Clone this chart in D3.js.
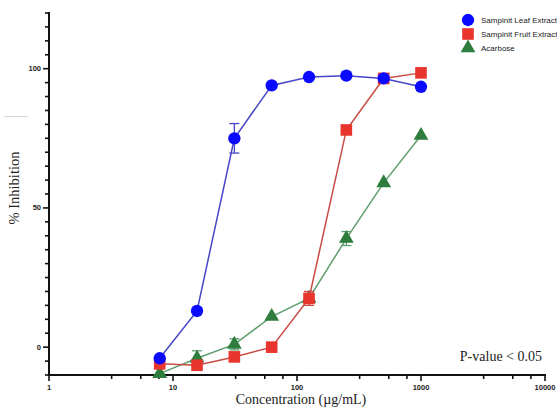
<!DOCTYPE html>
<html>
<head>
<meta charset="utf-8">
<script src="https://cdn.jsdelivr.net/npm/d3@7"></script>
<style>
  body { margin: 0; background: #fff; }
  svg { display: block; }
</style>
</head>
<body>
<div class="chart"></div>
<script>
var width = 557, height = 409;

// concentrations (ug/mL)
var conc = [7.8125, 15.625, 31.25, 62.5, 125, 250, 500, 1000];

var leafVals  = [-4, 13, 75, 94, 97, 97.5, 96.5, 93.5];
var leafErr   = [0, 0, 5.3, 0, 0, 0, 0, 0];
var fruitVals = [-6, -6.5, -3.5, 0, 17.5, 78, 96.5, 98.5];
var fruitErr  = [0, 0, 0, 0, 2.5, 0, 0, 0];
var acarVals  = [-9.5, -4, 1, 11, 17.5, 39, 59, 76];
var acarErr   = [0, 2.7, 2, 0, 0, 2.5, 0, 0];

var xTickVals = [1, 10, 100, 1000, 10000];
var xTickLabels = ["1", "10", "100", "1000", "10000"];
var yTickVals = [0, 50, 100];

var series = [
  {name: "Acarbose", vals: acarVals, err: acarErr, shape: "triangle", fill: "#2e7d3c", line: "#5f9e6e"},
  {name: "Sampinit Fruit Extract", vals: fruitVals, err: fruitErr, shape: "square", fill: "#e8352d", line: "#c94a44"},
  {name: "Sampinit Leaf Extract", vals: leafVals, err: leafErr, shape: "circle", fill: "#0a0aff", line: "#4646c8"}
];
var legendOrder = [series[2], series[1], series[0]];

var svg = d3.select(".chart").append("svg")
    .attr("width", width)
    .attr("height", height);

var x = d3.scaleLog().domain([1, 10000]).range([49, 545]);
var y = d3.scaleLinear().domain([-10, 120]).range([375, 13]);

function symbolFor(shape, size) {
  var t = shape === "circle" ? d3.symbolCircle : shape === "square" ? d3.symbolSquare : d3.symbolTriangle;
  return d3.symbol().type(t).size(size)();
}
var sizes = {circle: 120, square: 135, triangle: 95};

// faint stray line on the left (artifact in source)
svg.append("line")
    .attr("x1", 4).attr("x2", 28).attr("y1", 116.5).attr("y2", 116.5)
    .style("stroke", "#d4d4d4").style("stroke-width", 1);

// y axis minor ticks
var yMinor = d3.range(-10, 121, 5);
var yAxisG = svg.append("g").attr("class", "y-axis");
yAxisG.selectAll("line.minor")
    .data(yMinor)
  .enter().append("line")
    .attr("x1", function(d){ return yTickVals.indexOf(d) >= 0 ? 43 : 45; })
    .attr("x2", 49)
    .attr("y1", function(d){ return y(d); })
    .attr("y2", function(d){ return y(d); })
    .style("stroke", "#111").style("stroke-width", 1.6);
yAxisG.append("line")
    .attr("x1", 49).attr("x2", 49)
    .attr("y1", y(120) - 1).attr("y2", y(-10) + 1)
    .style("stroke", "#111").style("stroke-width", 2);
yAxisG.selectAll("text")
    .data(yTickVals)
  .enter().append("text")
    .attr("x", 41)
    .attr("y", function(d){ return y(d) + 2.5; })
    .attr("text-anchor", "end")
    .style("font-family", "Liberation Sans, Arial, sans-serif")
    .style("font-size", "7.5px")
    .style("font-weight", "bold")
    .style("fill", "#222")
    .text(function(d){ return d; });

// x axis
var xMinor = [];
[1, 10, 100, 1000].forEach(function(dec){
  [3.2, 5.5, 7.7].forEach(function(m){ xMinor.push(dec * m); });
});
var xAxisG = svg.append("g").attr("class", "x-axis");
xAxisG.append("line")
    .attr("x1", 48).attr("x2", 546)
    .attr("y1", 375).attr("y2", 375)
    .style("stroke", "#111").style("stroke-width", 2);
xAxisG.selectAll("line.minor")
    .data(xMinor)
  .enter().append("line")
    .attr("x1", function(d){ return x(d); })
    .attr("x2", function(d){ return x(d); })
    .attr("y1", 375).attr("y2", 379)
    .style("stroke", "#111").style("stroke-width", 1.6);
xAxisG.selectAll("line.major")
    .data(xTickVals)
  .enter().append("line")
    .attr("x1", function(d){ return x(d); })
    .attr("x2", function(d){ return x(d); })
    .attr("y1", 375).attr("y2", 381)
    .style("stroke", "#111").style("stroke-width", 1.6);
xAxisG.selectAll("text")
    .data(xTickVals)
  .enter().append("text")
    .attr("x", function(d){ return x(d); })
    .attr("y", 390)
    .attr("text-anchor", "middle")
    .style("font-family", "Liberation Sans, Arial, sans-serif")
    .style("font-size", "7.5px")
    .style("font-weight", "bold")
    .style("fill", "#222")
    .text(function(d, i){ return xTickLabels[i]; });

// axis titles
svg.append("text")
    .attr("transform", "translate(19," + 188 + ") rotate(-90)")
    .attr("text-anchor", "middle")
    .style("font-family", "Liberation Serif, Times New Roman, serif")
    .style("font-size", "14.5px")
    .style("fill", "#222")
    .text("% Inhibition");
svg.append("text")
    .attr("x", 301).attr("y", 404)
    .attr("text-anchor", "middle")
    .style("font-family", "Liberation Serif, Times New Roman, serif")
    .style("font-size", "14px")
    .style("fill", "#222")
    .text("Concentration (µg/mL)");
svg.append("text")
    .attr("x", 542).attr("y", 361)
    .attr("text-anchor", "end")
    .style("font-family", "Liberation Serif, Times New Roman, serif")
    .style("font-size", "14px")
    .style("fill", "#222")
    .text("P-value < 0.05");

// series
var line = d3.line()
    .x(function(d){ return x(d.c); })
    .y(function(d){ return y(d.v); });

series.forEach(function(s){
  var pts = conc.map(function(c, i){ return {c: c, v: s.vals[i], e: s.err[i]}; });
  var g = svg.append("g").attr("class", "series");

  g.append("path")
      .datum(pts)
      .attr("d", line)
      .style("fill", "none")
      .style("stroke", s.line)
      .style("stroke-width", 1.5);

  var eb = g.selectAll(".err")
      .data(pts.filter(function(p){ return p.e > 0; }))
    .enter().append("g");
  eb.append("line")
      .attr("x1", function(d){ return x(d.c); })
      .attr("x2", function(d){ return x(d.c); })
      .attr("y1", function(d){ return y(d.v + d.e); })
      .attr("y2", function(d){ return y(d.v - d.e); })
      .style("stroke", s.line).style("stroke-width", 1.3);
  [1, -1].forEach(function(sg){
    eb.append("line")
        .attr("x1", function(d){ return x(d.c) - 5; })
        .attr("x2", function(d){ return x(d.c) + 5; })
        .attr("y1", function(d){ return y(d.v + sg * d.e); })
        .attr("y2", function(d){ return y(d.v + sg * d.e); })
        .style("stroke", s.line).style("stroke-width", 1.3);
  });

  g.selectAll(".pt")
      .data(pts)
    .enter().append("path")
      .attr("d", symbolFor(s.shape, sizes[s.shape]))
      .attr("transform", function(d){ return "translate(" + x(d.c) + "," + y(d.v) + ")"; })
      .style("fill", s.fill);
});

// legend
var leg = svg.append("g").attr("class", "legend");
legendOrder.forEach(function(s, i){
  var ly = 20 + i * 14;
  leg.append("path")
      .attr("d", symbolFor(s.shape, sizes[s.shape]))
      .attr("transform", "translate(468," + ly + ")")
      .style("fill", s.fill);
  leg.append("text")
      .attr("x", 481).attr("y", ly + 3)
      .style("font-family", "Liberation Sans, Arial, sans-serif")
      .style("font-size", "8px")
      .style("fill", "#222")
      .text(s.name);
});
</script>
</body>
</html>
